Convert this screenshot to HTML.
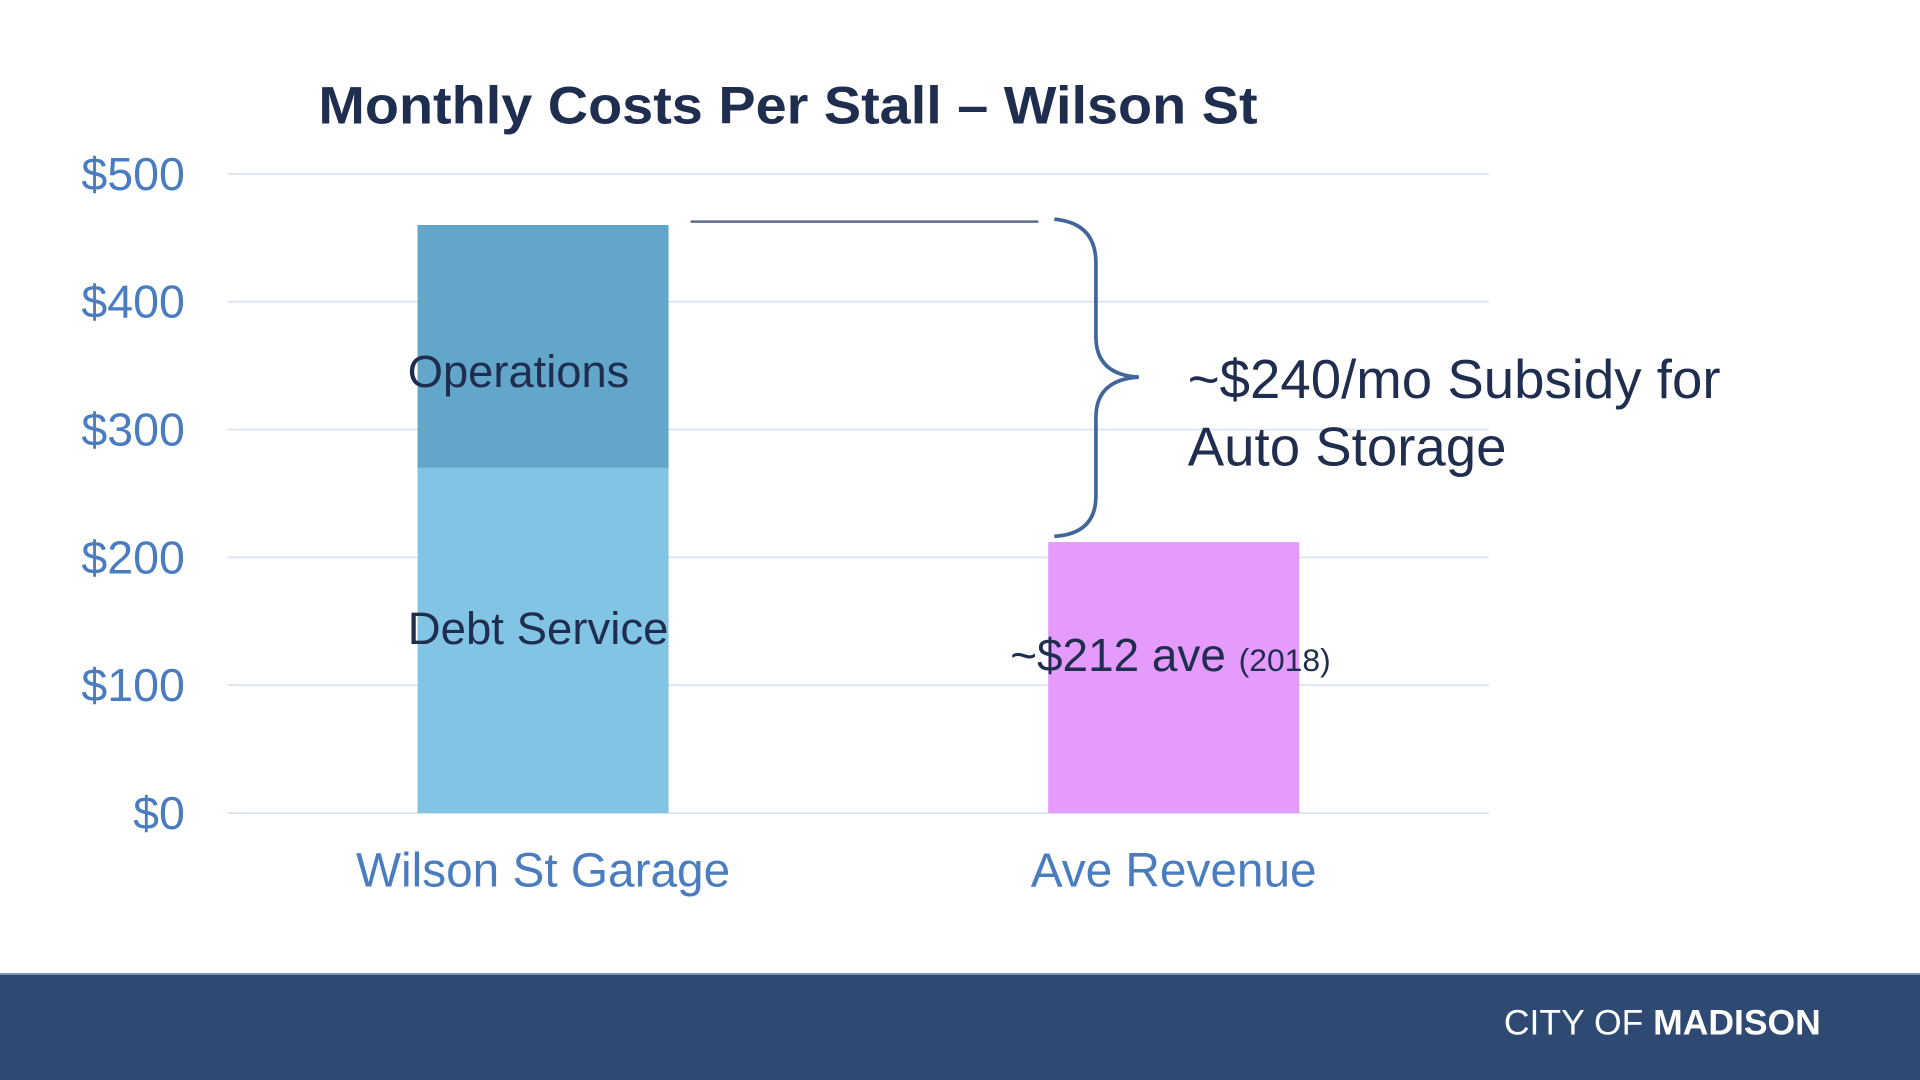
<!DOCTYPE html>
<html><head><meta charset="utf-8"><style>
html,body{margin:0;padding:0;background:#fff;}
svg{display:block;font-family:"Liberation Sans",Arial,sans-serif;}
</style></head><body>
<svg id="chart" width="1920" height="1080" viewBox="0 0 1568 882" preserveAspectRatio="none" xmlns="http://www.w3.org/2000/svg">
<rect width="1568" height="882" fill="#ffffff"/>
<text x="260" y="101" font-size="43" font-weight="bold" fill="#1f2d4e" textLength="767" lengthAdjust="spacingAndGlyphs">Monthly Costs Per Stall – Wilson St</text>
<g id="grid"></g>
<g id="bars"></g>
<line x1="564" y1="181" x2="848" y2="181" stroke="#5a6e8c" stroke-width="2"/>
<path d="M861 179 Q895 182 895 215 L895 275 Q895 306 930 308 Q895 310 895 341 L895 405 Q895 436 861 438" fill="none" stroke="#43669a" stroke-width="3"/>
<text font-size="44.6" fill="#1f2d4e"><tspan x="970" y="325">~$240/mo Subsidy for</tspan><tspan x="970" y="380">Auto Storage</tspan></text>
<rect x="0" y="795" width="1568" height="87" fill="#2e4a72"/>
<line x1="0" y1="795.5" x2="1568" y2="795.5" stroke="#6f8fae" stroke-width="1.5"/>
<text x="1487" y="845" font-size="29" fill="#ffffff" text-anchor="end">CITY OF <tspan font-weight="bold">MADISON</tspan></text>
</svg>
<script>
const categories = ["Wilson St Garage", "Ave Revenue"];
const debtService = [270, 0];
const operations = [190, 0];
const revenue = [0, 212];
const yTicks = [0, 100, 200, 300, 400, 500];
const yTickLabels = ["$0", "$100", "$200", "$300", "$400", "$500"];

const NS = "http://www.w3.org/2000/svg";
const y0 = 664, yTop = 142, xL = 186, xR = 1216;
function yScale(v){ return y0 - (v / 500) * (y0 - yTop); }
const bandW = (xR - xL) / categories.length, barW = 205;
function xCenter(i){ return xL + bandW * (i + 0.5); }
function mk(tag, attrs, parent){ const e = document.createElementNS(NS, tag); for (const k in attrs) e.setAttribute(k, attrs[k]); parent.appendChild(e); return e; }

const grid = document.getElementById("grid");
yTicks.forEach((t, i) => {
  const l = mk("line", {x1: xL, x2: xR, y1: yScale(t), y2: yScale(t), stroke: "#dbe5f0", "stroke-width": 1.5}, grid);
  
  
  const tx = mk("text", {x: 151, y: yScale(t) + 13, "font-size": 38, fill: "#4a7cc0", "text-anchor": "end"}, grid);
  tx.textContent = yTickLabels[i];
  
  
});

const bars = document.getElementById("bars");
categories.forEach((c, i) => {
  const cx = xCenter(i), x = cx - barW / 2;
  if (debtService[i] > 0) {
    const r = mk("rect", {x: x, width: barW, y: yScale(debtService[i]), height: y0 - yScale(debtService[i]), fill: "#82c4e4"}, bars);
    
    
    const lb = mk("text", {x: x - 8, y: 526, "font-size": 37.2, fill: "#1f2d4e"}, bars);
    lb.textContent = "Debt Service";
    
    
  }
  if (operations[i] > 0) {
    const top = yScale(debtService[i] + operations[i]);
    const r = mk("rect", {x: x, width: barW, y: top, height: yScale(debtService[i]) - top, fill: "#62a6ca"}, bars);
    
    
    const lb = mk("text", {x: x - 8, y: 316, "font-size": 37, fill: "#1f2d4e"}, bars);
    lb.textContent = "Operations";
    
    
  }
  if (revenue[i] > 0) {
    const r = mk("rect", {x: x, width: barW, y: yScale(revenue[i]), height: y0 - yScale(revenue[i]), fill: "#e59bfb"}, bars);
    
    
    const lb = mk("text", {x: 825, y: 548, "font-size": 37.5, fill: "#1f2d4e"}, bars);
    lb.innerHTML = "~$" + revenue[i] + " ave <tspan font-size='26'>(2018)</tspan>";
    
    
  }
  const cl = mk("text", {x: cx, y: 724, "font-size": 39, fill: "#4a7cc0", "text-anchor": "middle"}, bars);
  cl.textContent = c;
  
  
});
</script>
</body></html>
